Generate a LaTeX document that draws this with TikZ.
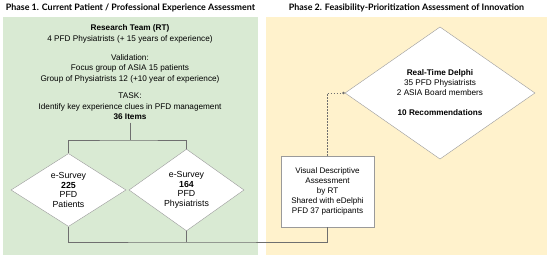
\documentclass[tikz,border=0pt]{standalone}
\usepackage{fontspec}
\setmainfont{Liberation Sans}
\newfontfamily\titlefont{Lato}
\usetikzlibrary{arrows.meta, shapes.geometric}
\usepackage{xcolor}

\definecolor{phaseonebg}{HTML}{D9EAD3}
\definecolor{phasetwobg}{HTML}{FFF2CC}
\definecolor{linkgray}{HTML}{6F6F6F}
\definecolor{edgegray}{HTML}{9A9A9A}

\tikzset{
  phasetitle/.style={font=\titlefont\bfseries\fontsize{8.9}{10}\selectfont, inner sep=0pt},
  bodytext/.style={font=\fontsize{8.2}{10.5}\selectfont, align=center, inner sep=1pt},
  choice/.style={diamond, draw=edgegray, fill=white, align=center, inner sep=0pt},
  infobox/.style={draw=edgegray, fill=white, bodytext, font=\fontsize{8.1}{10}\selectfont,
    minimum width=93pt, minimum height=71pt},
  link/.style={draw=linkgray, line width=0.8pt},
  dotlink/.style={draw=linkgray, line width=0.7pt, dash pattern=on 1.5pt off 1.5pt,
    -{Circle[length=2.6pt]}}
}

\begin{document}
\begin{tikzpicture}[x=1pt, y=-1pt]
\useasboundingbox (0,0) rectangle (550,261);

% panels
\fill[phaseonebg] (3,17) rectangle (258,255);
\fill[phasetwobg] (266,17) rectangle (547,255);
\node[phasetitle] (titleA) at (130.5,8) {Phase 1. Current Patient / Professional Experience Assessment};
\node[phasetitle] (titleB) at (406.5,8) {Phase 2. Feasibility-Prioritization Assessment of Innovation};

% phase 1
\node[bodytext] (team) at (130,34) {\textbf{Research Team (RT)}\\ 4 PFD Physiatrists (+ 15 years of experience)};
\node[bodytext] (valid) at (130,68.5) {Validation:\\ Focus group of ASIA 15 patients\\ Group of Physiatrists 12 (+10 year of experience)};
\node[bodytext, inner sep=2.5pt] (task) at (130,106.5) {TASK:\\ Identify key experience clues in PFD management\\ \textbf{36 Items}};
\node[choice, font=\fontsize{8.8}{9.6}\selectfont, minimum width=115pt, minimum height=73pt] (surveyA) at (68.5,190) {e-Survey\\ \textbf{225}\\ PFD\\ Patients};
\node[choice, font=\fontsize{8.8}{9.6}\selectfont, minimum width=115pt, minimum height=73pt] (surveyB) at (186.5,190) {e-Survey\\ \textbf{164}\\ PFD\\ Physiatrists};

% phase 2
\node[infobox] (visual) at (327.5,191.5) {Visual Descriptive\\ Assessment\\ by RT\\ Shared with eDelphi\\ PFD 37 participants};
\node[choice, font=\fontsize{8.2}{10}\selectfont, minimum width=190pt, minimum height=102pt] (delphi) at (440,93) {\textbf{Real-Time Delphi}\\ 35 PFD Physiatrists\\ 2 ASIA Board members\\[10pt] \textbf{10 Recommendations}};

% connectors
\coordinate (split) at (130,140);
\coordinate (merge) at (186.5,242);
\draw[link] (task.south) -- (split);
\draw[link] (surveyA.north) |- (split) -| (surveyB.north);
\draw[link] (surveyA.south) |- (merge) -| (visual.south);
\draw[link] (surveyB.south) -- (merge);
\draw[dotlink] (visual.north) |- (delphi.west);
\end{tikzpicture}
\end{document}
